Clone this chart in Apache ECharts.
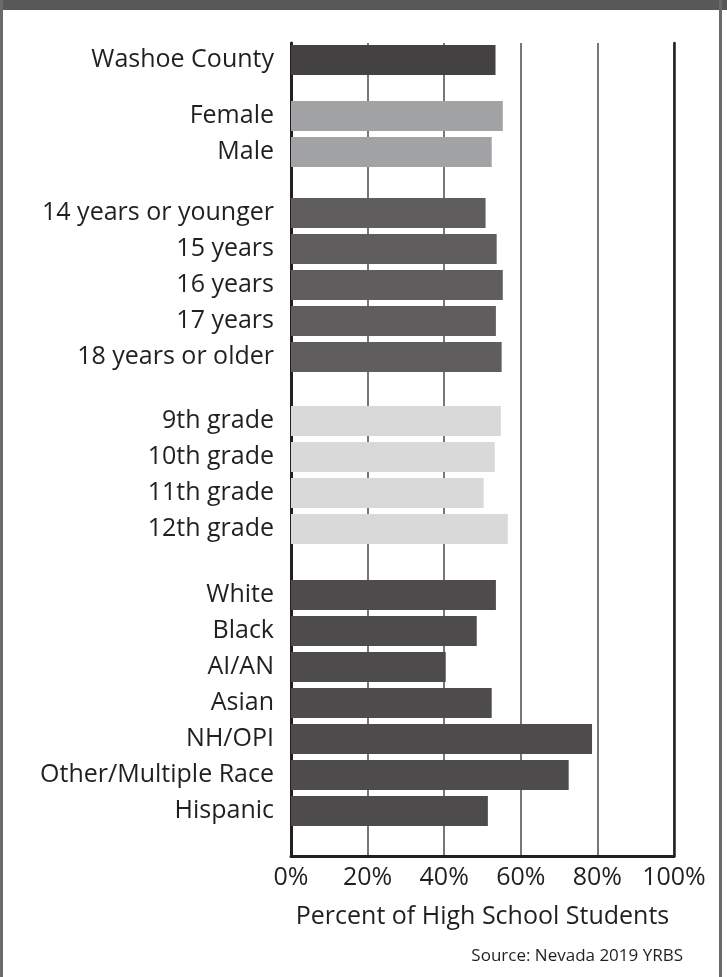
<!DOCTYPE html>
<html>
<head>
<meta charset="utf-8">
<script src="https://cdn.jsdelivr.net/npm/echarts@6/dist/echarts.min.js"></script>
<style>
  html, body { margin: 0; padding: 0; background: #fff; }
  #wrap { position: relative; width: 727px; height: 977px; overflow: hidden; }
  #chart { position: absolute; left: 0; top: 0; width: 727px; height: 977px; }
  .band { position: absolute; left: 0; top: 0; width: 727px; height: 10px; background: #58585a; }
  .lb { position: absolute; left: 0; top: 0; width: 3px; height: 977px; background: #6a6a6c; }
  .rb { position: absolute; left: 719px; top: 0; width: 3px; height: 977px; background: #6a6a6c; }
</style>
</head>
<body>
<div id="wrap">
  <div id="chart"></div>
  <div class="band"></div>
  <div class="lb"></div>
  <div class="rb"></div>
</div>
<script>
// ---- data ----
const overallLabels = ['Washoe County'];
const overallValues = [53.4];
const sexLabels = ['Female', 'Male'];
const sexValues = [55.3, 52.4];
const ageLabels = ['14 years or younger', '15 years', '16 years', '17 years', '18 years or older'];
const ageValues = [50.8, 53.7, 55.3, 53.5, 55.0];
const gradeLabels = ['9th grade', '10th grade', '11th grade', '12th grade'];
const gradeValues = [54.8, 53.2, 50.3, 56.6];
const raceLabels = ['White', 'Black', 'AI/AN', 'Asian', 'NH/OPI', 'Other/Multiple Race', 'Hispanic'];
const raceValues = [53.5, 48.5, 40.4, 52.4, 78.6, 72.5, 51.4];
const xTicks = [0, 20, 40, 60, 80, 100];
const axisTitle = 'Percent of High School Students';
const sourceText = 'Source: Nevada 2019 YRBS';

// ---- layout ----
const FONT = 'Open Sans';
const LEFT = 291, WIDTH = 383, BAND = 36, BARW = 30;
const groups = [
  { labels: overallLabels, values: overallValues, color: '#434142', top: 42 },
  { labels: sexLabels, values: sexValues, color: '#a2a3a5', top: 98 },
  { labels: ageLabels, values: ageValues, color: '#5f5d5e', top: 195 },
  { labels: gradeLabels, values: gradeValues, color: '#d9d9da', top: 403 },
  { labels: raceLabels, values: raceValues, color: '#4d4b4c', top: 577 }
];

const grid = [{ left: LEFT, width: WIDTH, top: 43, height: 813 }];
const xAxis = [{
  gridIndex: 0, type: 'value', min: xTicks[0], max: xTicks[xTicks.length - 1], interval: 20,
  axisLine: { show: true, lineStyle: { color: '#231f20', width: 3 } },
  axisTick: { show: false },
  splitLine: { show: true, lineStyle: { color: '#4a4a4a', width: 1.5 } },
  axisLabel: { formatter: '{value}%', color: '#231f20', fontFamily: FONT, fontSize: 25, margin: 9 },
  name: axisTitle, nameLocation: 'middle', nameGap: 48,
  nameTextStyle: { color: '#231f20', fontFamily: FONT, fontSize: 25 }
}];
const yAxis = [
  { gridIndex: 0, type: 'value', position: 'left', min: 0, max: 1,
    axisLine: { show: true, lineStyle: { color: '#231f20', width: 3 } },
    axisLabel: { show: false }, axisTick: { show: false }, splitLine: { show: false } },
  { gridIndex: 0, type: 'value', position: 'right', min: 0, max: 1,
    axisLine: { show: true, lineStyle: { color: '#231f20', width: 2.5 } },
    axisLabel: { show: false }, axisTick: { show: false }, splitLine: { show: false } }
];
const series = [];
groups.forEach((g, i) => {
  const gi = i + 1;
  grid.push({ left: LEFT, width: WIDTH, top: g.top, height: g.labels.length * BAND });
  xAxis.push({ gridIndex: gi, type: 'value', min: 0, max: 100, show: false });
  yAxis.push({
    gridIndex: gi, type: 'category', inverse: true, data: g.labels,
    axisLine: { show: false }, axisTick: { show: false }, splitLine: { show: false },
    axisLabel: { color: '#231f20', fontFamily: FONT, fontSize: 25, margin: 17 }
  });
  series.push({
    type: 'bar', xAxisIndex: gi, yAxisIndex: yAxis.length - 1, data: g.values,
    barWidth: BARW, itemStyle: { color: g.color }, silent: true, z: 3
  });
});

const chart = echarts.init(document.getElementById('chart'), null, { renderer: 'canvas' });
chart.setOption({
  animation: false,
  grid, xAxis, yAxis, series,
  graphic: [{
    type: 'text', right: 44, top: 948,
    style: { text: sourceText, fill: '#231f20', font: '17px "' + FONT + '"' }
  }]
});
</script>
</body>
</html>
